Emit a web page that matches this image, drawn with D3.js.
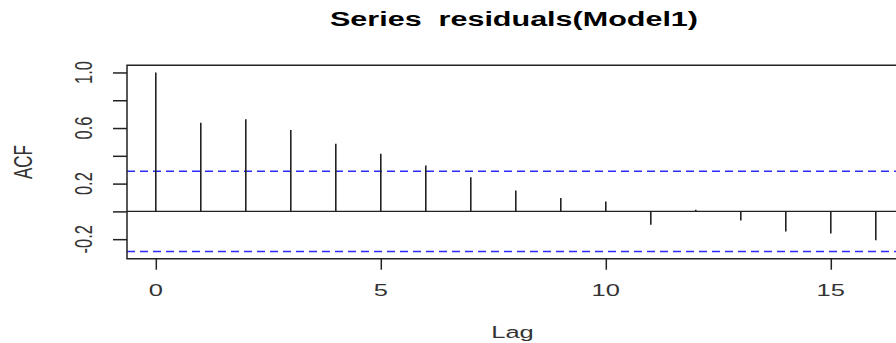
<!DOCTYPE html>
<html>
<head>
<meta charset="utf-8">
<script src="https://cdn.jsdelivr.net/npm/d3@7"></script>
<style>
  html, body { margin:0; padding:0; background:#fff; }
  svg { display:block; font-family:"Liberation Sans", Arial, sans-serif; }
</style>
</head>
<body>
<svg id="chart" width="896" height="343"></svg>
<script>
/* ===== ACF plot of model residuals (R acf() look) ===== */

const LAGS = [0,1,2,3,4,5,6,7,8,9,10,11,12,13,14,15,16];
const ACF_VALUES = [1.0,0.638,0.664,0.585,0.487,0.414,0.330,0.245,0.150,0.097,0.072,-0.096,0.012,-0.065,-0.144,-0.159,-0.207];
const CONF_LIMIT = 0.289;            // 1.96/sqrt(n), n = 46
const X_TICKS = [0,5,10,15];
const Y_TICKS = [-0.2,0,0.2,0.4,0.6,0.8,1.0];
const Y_LABELLED = [-0.2,0.2,0.6,1.0];   // R drops the crowded ones
const TITLE = "Series  residuals(Model1)";
const X_LABEL = "Lag";
const Y_LABEL = "ACF";

const svg = d3.select("#chart");
const P = { l:127, t:65.3, b:258.7 };
const W = 896;
const SX = 1.5;          // the source picture is stretched sideways
const ink = "#222", txt = "#333";

// R style limits: data range stretched by 4%
const xr = [0, 16], xPad = (xr[1]-xr[0])*0.04;
const yr = [-CONF_LIMIT, 1], yPad = (yr[1]-yr[0])*0.04;

const x = d3.scaleLinear().domain([xr[0]-xPad, xr[1]+xPad]).range([P.l, P.l + 45*(16+2*xPad)]);
const y = d3.scaleLinear().domain([yr[0]-yPad, yr[1]+yPad]).range([P.b, P.t]);

svg.append("defs").append("clipPath").attr("id","plotClip")
  .append("rect").attr("x",P.l).attr("y",P.t).attr("width",W-P.l).attr("height",P.b-P.t);

// zero line
svg.append("line")
  .attr("x1",P.l).attr("x2",W).attr("y1",y(0)).attr("y2",y(0))
  .attr("stroke",ink).attr("stroke-width",1.4);

const plot = svg.append("g").attr("clip-path","url(#plotClip)");

// confidence limits
plot.selectAll("line.conf").data([CONF_LIMIT,-CONF_LIMIT]).join("line")
  .attr("class","conf")
  .attr("x1",P.l).attr("x2",W)
  .attr("y1",d=>y(d)).attr("y2",d=>y(d))
  .attr("stroke","#2b2bff").attr("stroke-width",1.4)
  .attr("stroke-dasharray","8,5");

// spikes
plot.selectAll("line.spike").data(LAGS).join("line")
  .attr("class","spike")
  .attr("x1",d=>x(d)).attr("x2",d=>x(d))
  .attr("y1",y(0)).attr("y2",(d,i)=>y(ACF_VALUES[i]))
  .attr("stroke",ink).attr("stroke-width",1.6);

// box (right side falls outside the picture)
svg.append("path")
  .attr("d",`M${W},${P.t}H${P.l}V${P.b}H${W}`)
  .attr("fill","none").attr("stroke",ink).attr("stroke-width",1.5);

// axes: ticks only, labels drawn below so they can be stretched like the source
const gx = svg.append("g").attr("transform",`translate(0,${P.b})`)
  .call(d3.axisBottom(x).tickValues(X_TICKS).tickSize(11).tickFormat(""));
const gy = svg.append("g").attr("transform",`translate(${P.l},0)`)
  .call(d3.axisLeft(y).tickValues(Y_TICKS).tickSize(14).tickFormat(""));
[gx, gy].forEach(g=>{
  g.select(".domain").remove();
  g.selectAll(".tick line").attr("stroke",ink).attr("stroke-width",1.5);
});

svg.append("g").selectAll("text").data(X_TICKS).join("text")
  .attr("transform",d=>`translate(${x(d)},296) scale(${SX},1)`)
  .attr("text-anchor","middle").attr("font-size",17).attr("fill",txt)
  .text(d=>d);

svg.append("g").selectAll("text").data(Y_LABELLED).join("text")
  .attr("transform",d=>`translate(83,${y(d)}) scale(${SX},1) rotate(-90)`)
  .attr("text-anchor","middle").attr("dy","0.36em").attr("font-size",16.5).attr("fill",txt)
  .text(d=>d.toFixed(1));

// titles
svg.append("text")
  .attr("x",514).attr("y",26).attr("text-anchor","middle")
  .attr("font-size",20).attr("font-weight","bold").attr("fill","#000")
  .attr("textLength",368).attr("lengthAdjust","spacingAndGlyphs")
  .style("white-space","pre")
  .text(TITLE);

svg.append("text")
  .attr("transform",`translate(512.5,338) scale(${SX},1)`)
  .attr("text-anchor","middle").attr("font-size",17).attr("fill",txt)
  .text(X_LABEL);

svg.append("text")
  .attr("transform",`translate(23,162) scale(${SX},1) rotate(-90)`)
  .attr("text-anchor","middle").attr("dy","0.36em").attr("font-size",17).attr("fill",txt)
  .text(Y_LABEL);
</script>
</body>
</html>
